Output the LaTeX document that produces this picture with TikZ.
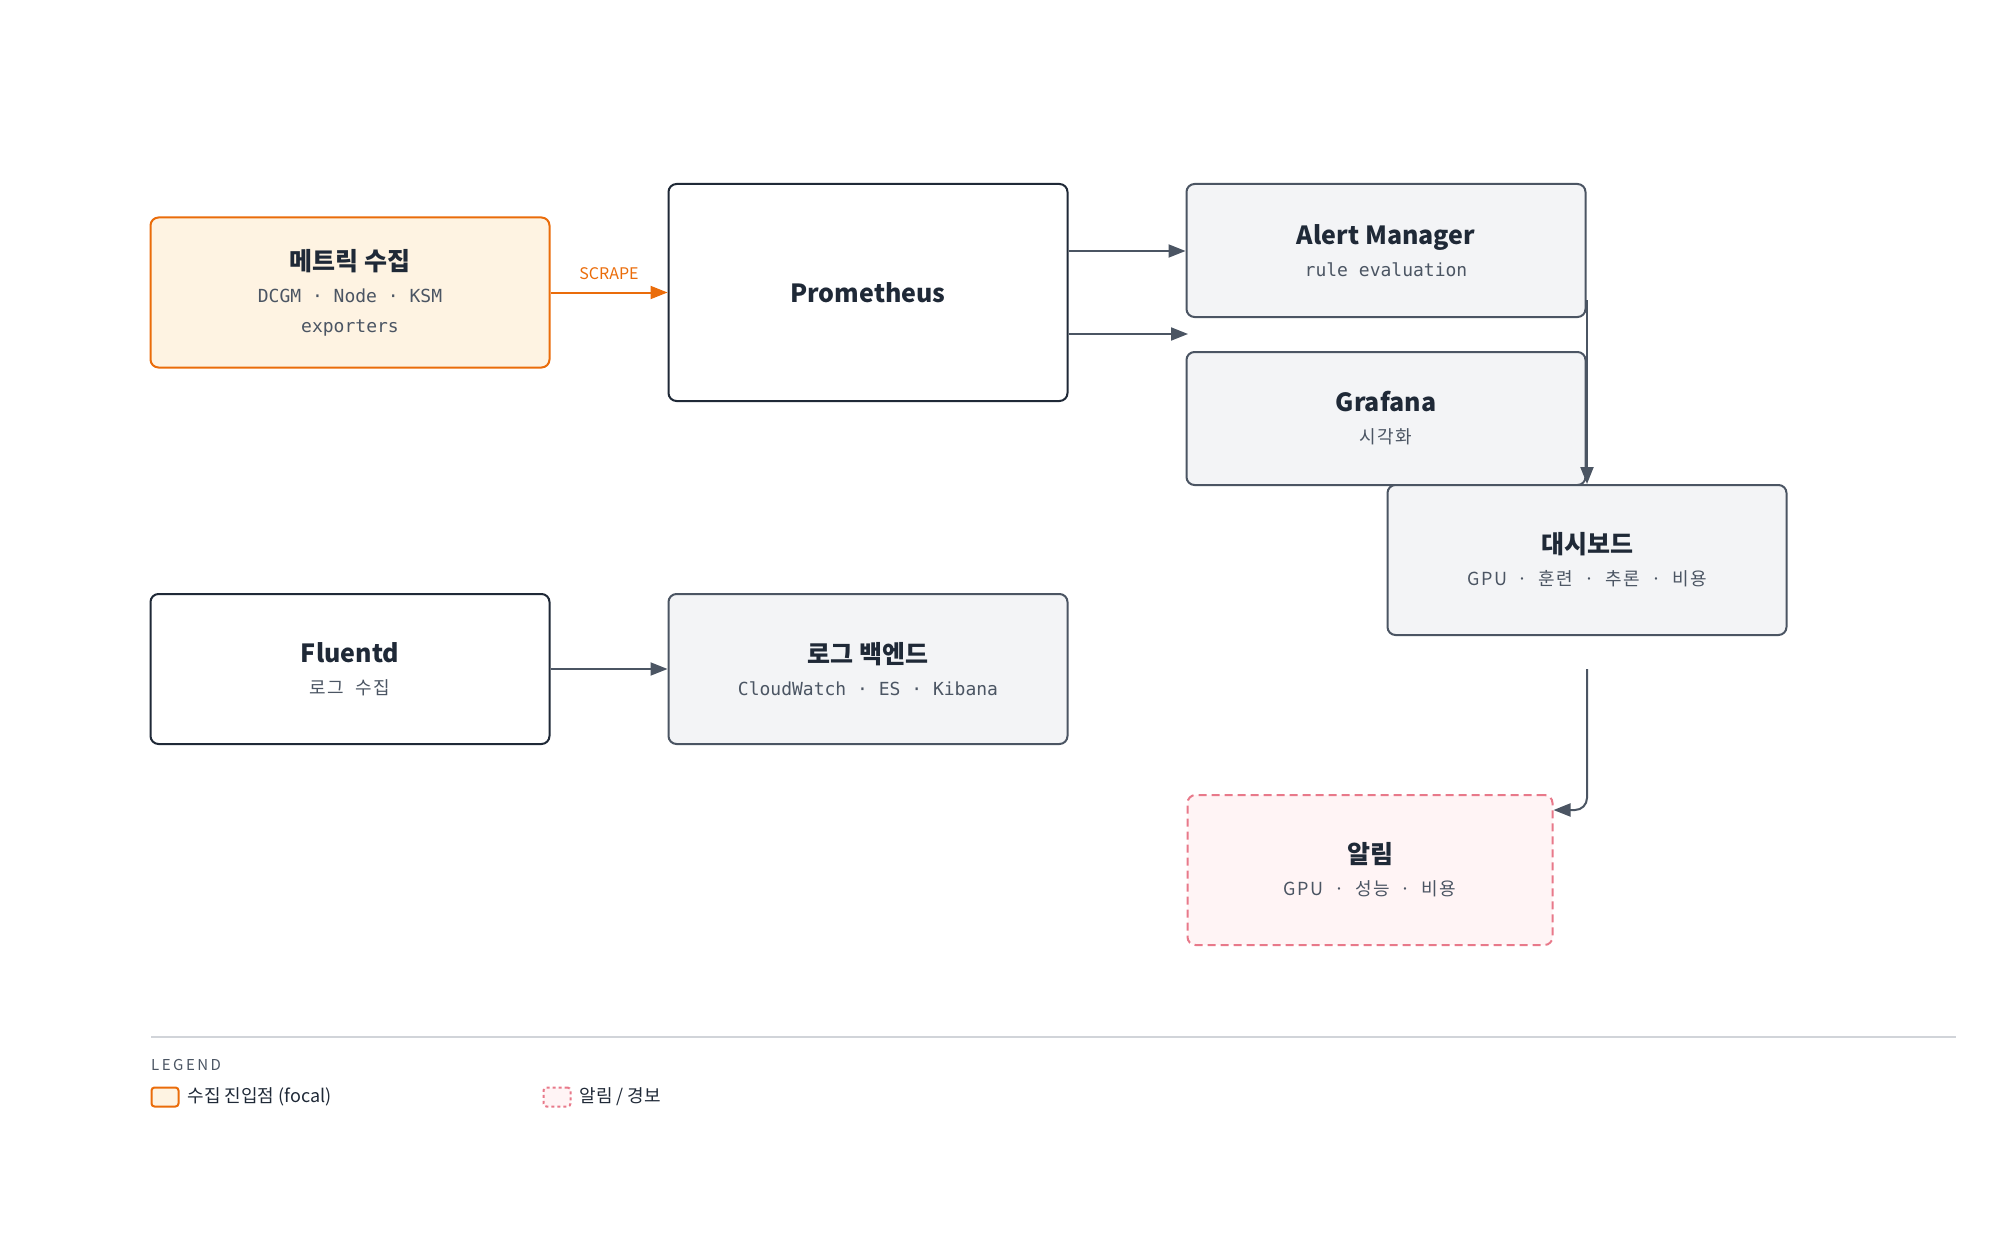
\documentclass[tikz,border=0pt]{standalone}
\usepackage{fontspec}
\setmainfont{Noto Sans CJK KR}
\setmonofont{DejaVu Sans Mono}
\newfontfamily\kmono{Noto Sans CJK KR}[LetterSpace=8]
\usetikzlibrary{arrows.meta}
\definecolor{ink}{HTML}{1F2937}
\definecolor{slate}{HTML}{4B5563}
\definecolor{paper}{HTML}{F3F4F6}
\definecolor{amber}{HTML}{EA6C0A}
\definecolor{cream}{HTML}{FEF3E2}
\definecolor{rose}{HTML}{E8798A}
\definecolor{blush}{HTML}{FFF4F5}
\begin{document}
\begin{tikzpicture}[x=1pt,y=-1pt]
\tikzset{
box/.style={draw=ink,line width=2pt,rounded corners=8pt,minimum width=399pt,align=center,fill=white},
soft/.style={box,draw=slate,fill=paper},
focal/.style={box,draw=amber,fill=cream},
alarm/.style={box,draw=rose,fill=blush,dashed,dash pattern=on 8pt off 5pt,minimum width=365pt},
edge/.style={-{Triangle[length=17pt,width=13pt]},draw=slate,line width=2pt},
font={\fontsize{18pt}{22pt}\selectfont}
}
\newcommand{\ttl}[1]{{\fontsize{25pt}{30pt}\selectfont\bfseries\color{ink}#1}}
\newcommand{\sub}[1]{{\color{slate}\ttfamily\fontsize{18pt}{30pt}\selectfont #1}}
\newcommand{\ksub}[1]{{\color{slate}\kmono\fontsize{18pt}{30pt}\selectfont #1}}

\useasboundingbox (0,0) rectangle (2000,1252);

\node[focal,minimum height=150pt] (metric) at (350,292.5) {\ttl{메트릭 수집}\\[10pt]\sub{DCGM · Node · KSM}\\[8pt]\sub{exporters}};
\node[box,minimum height=217pt] (prom) at (868,292.5) {\ttl{Prometheus}};
\node[soft,minimum height=133pt] (alert) at (1386,250.5) {\ttl{Alert Manager}\\[10pt]\sub{rule evaluation}};
\node[soft,minimum height=133pt] (graf) at (1386,418.5) {\ttl{Grafana}\\[10pt]\ksub{시각화}};
\node[soft,minimum height=150pt] (dash) at (1587,560) {\ttl{대시보드}\\[10pt]\ksub{GPU \ · \ 훈련 \ · \ 추론 \ · \ 비용}};
\node[box,minimum height=150pt] (fluent) at (350,669) {\ttl{Fluentd}\\[10pt]\ksub{로그 \ 수집}};
\node[soft,minimum height=150pt] (logs) at (868,669) {\ttl{로그 백엔드}\\[10pt]\sub{CloudWatch · ES · Kibana}};
\node[alarm,minimum height=150pt] (notify) at (1370,870) {\ttl{알림}\\[10pt]\ksub{GPU \ · \ 성능 \ · \ 비용}};

\coordinate (gin) at (1188,334);
\coordinate (dout) at (1587,669);
\coordinate (aout) at (1587,300);

\draw[edge,draw=amber,amber] (metric) -- node[above=8pt,font={\fontsize{16pt}{18pt}\selectfont}] {SCRAPE} (prom);
\draw[edge] (prom.east |- 0,251) -- (alert.west |- 0,251);
\draw[edge] (prom.east |- gin) -- (gin);
\draw[edge] (aout) -- (dash.north -| aout);
\draw[edge,rounded corners=12pt] (dout) |- (notify.east |- 0,810);
\draw[edge] (fluent) -- (logs);

% legend
\draw[draw=paper!80!slate,line width=1.2pt] (151,1037) -- (1956,1037);
\node[anchor=west,inner sep=0pt,text=slate,font={\fontsize{15pt}{18pt}\selectfont}] (legend) at (151,1065) {L\,E\,G\,E\,N\,D};
\node[draw=amber,fill=cream,line width=2pt,rounded corners=3pt,minimum width=27pt,minimum height=19pt,inner sep=0pt] (keyfocal) at (165,1097) {};
\node[anchor=west,text=ink] (keyfocaltxt) at (184,1097) {수집 진입점 (focal)};
\node[draw=rose,fill=blush,line width=2pt,dashed,rounded corners=3pt,minimum width=27pt,minimum height=19pt,inner sep=0pt] (keyalarm) at (557,1097) {};
\node[anchor=west,text=ink] (keyalarmtxt) at (576,1097) {알림 / 경보};
\end{tikzpicture}
\end{document}
